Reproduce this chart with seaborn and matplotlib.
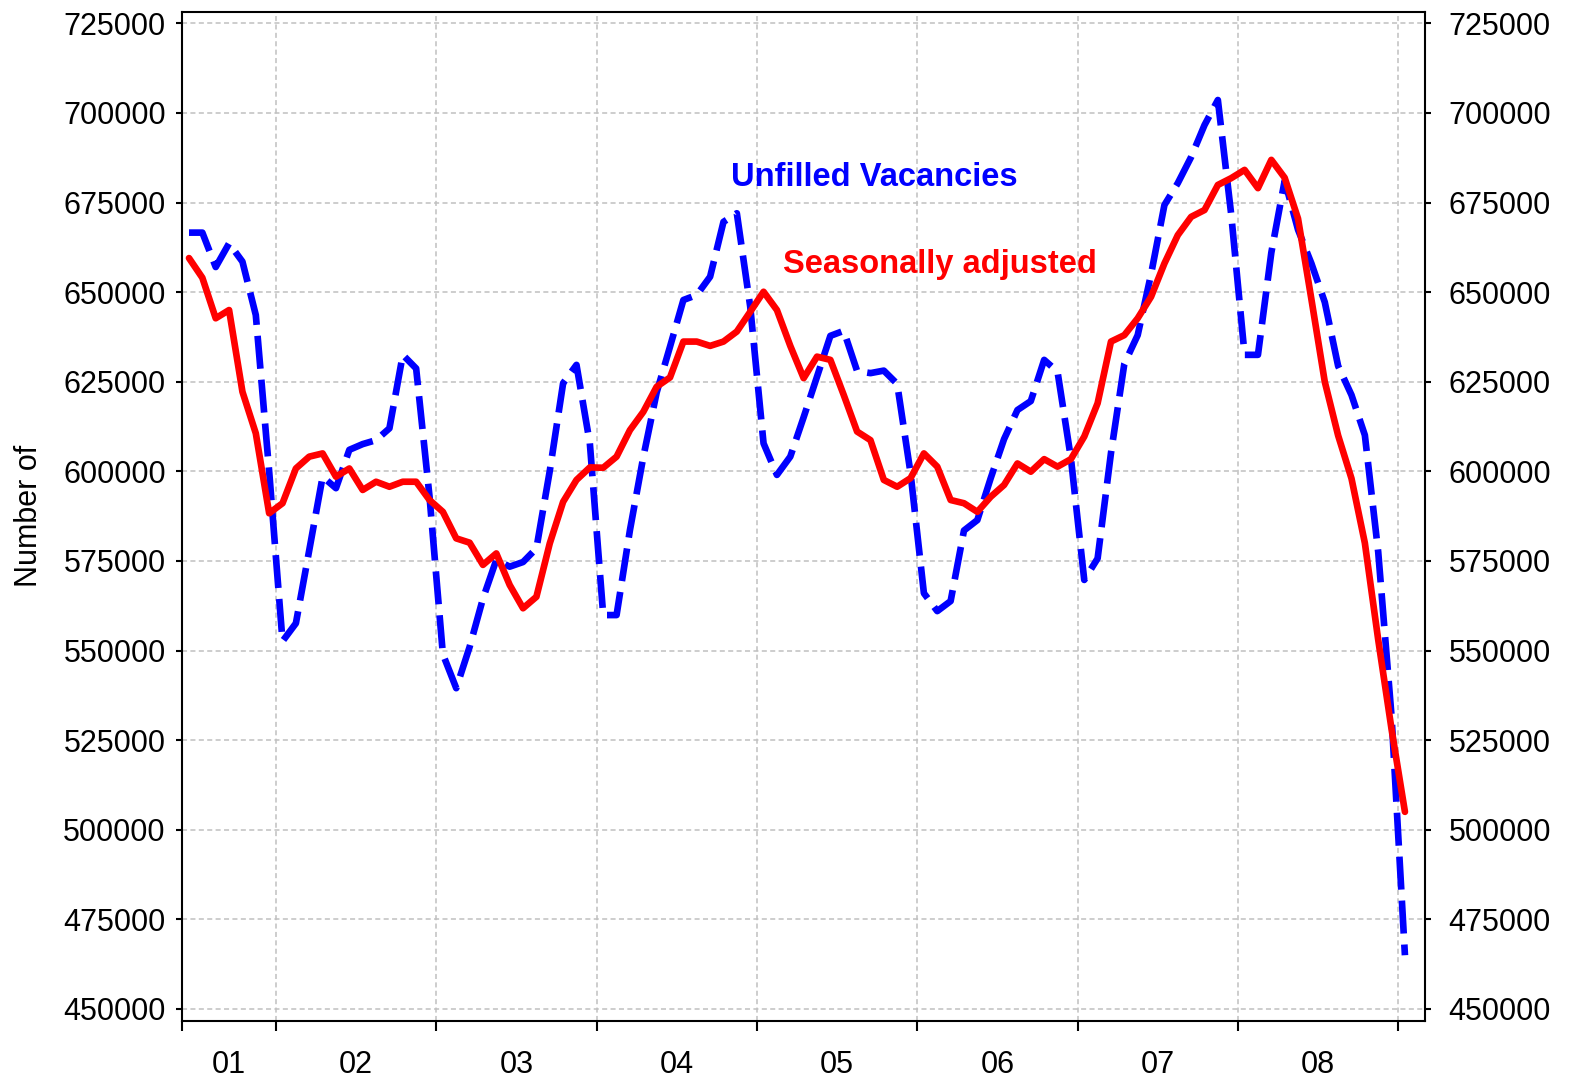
import numpy as np
import pandas as pd
import matplotlib
matplotlib.use("Agg")
import matplotlib.pyplot as plt
import seaborn as sns

# monthly observations, June 2001 - January 2009
months = pd.date_range("2001-06-01", periods=92, freq="MS")

vacancies = [
    666600, 666600, 657000, 663600, 658500, 643600, 600000, 552600, 557600, 578000,
    598500, 595300, 606000, 607600, 608700, 612000, 632500, 628700, 593000, 549000,
    539500, 551000, 564500, 575300, 573400, 574700, 578500, 600100, 624600, 629700,
    607800, 559900, 559900, 583600, 604000, 622000, 634800, 647800, 649200, 654300,
    669600, 672000, 646000, 607800, 599000, 604100, 615100, 626400, 637800, 639200,
    628000, 627400, 628100, 624400, 599500, 566000, 561000, 563800, 583500, 586400,
    598100, 609000, 617100, 619600, 631100, 627800, 603700, 569700, 575700, 605100,
    630000, 638000, 655000, 674300, 680400, 687700, 696600, 703600, 671600, 632500,
    632500, 661000, 681100, 667400, 658000, 647200, 629400, 621300, 610100, 577500,
    531600, 465000,
]

seasonally_adj = [
    659500, 654000, 642700, 645000, 622200, 610600, 588300, 591100, 600800, 604100,
    605000, 598500, 600800, 594800, 597100, 595700, 597100, 597100, 592000, 588700,
    581300, 580100, 573900, 577100, 568300, 561800, 565000, 579900, 591500, 597600,
    601100, 601000, 604100, 611500, 616600, 623600, 626200, 636200, 636200, 635000,
    636200, 639000, 644500, 650100, 645000, 635000, 626000, 632000, 631100, 621300,
    611100, 608700, 597600, 595700, 598100, 605000, 601300, 592000, 591100, 588700,
    592900, 596200, 602200, 599900, 603400, 601300, 603400, 609700, 619000, 636200,
    638000, 642700, 648700, 658000, 665900, 671000, 672900, 679900, 681800, 684100,
    679000, 686900, 681900, 670500, 648000, 625000, 610000, 598000, 580000, 553000,
    528000, 505000,
]

year_labels = ["01", "02", "03", "04", "05", "06", "07", "08"]
y_ticks = list(range(450000, 725001, 25000))

df = pd.DataFrame({
    "t": months.year + (months.month - 0.5) / 12.0,
    "vacancies": vacancies,
    "sa": seasonally_adj,
})

sns.set_theme(style="white")
plt.rcParams["font.family"] = ["Liberation Sans", "DejaVu Sans"]

fig = plt.figure(figsize=(15.73, 10.81), dpi=100)
ax = fig.add_axes([0.1159, 0.0555, 0.79, 0.9337])

sns.lineplot(data=df, x="t", y="vacancies", ax=ax, color="#0000ff",
             linewidth=4.8, linestyle=(0, (4.95, 1.65)), zorder=3)
sns.lineplot(data=df, x="t", y="sa", ax=ax, color="#ff0000",
             linewidth=4.8, zorder=4)

x0, x1 = 2001 + 5 / 12, 2009 + 2 / 12
ax.set_xlim(x0, x1)
ax.set_ylim(446650, 728240)

# year boundaries as ticks/grid, labels in the middle of each year
bounds = [x0] + list(range(2002, 2010))
ax.set_xticks(bounds)
ax.set_xticklabels([])
mids = [(x0 + 2002) / 2] + [y + 0.5 for y in range(2002, 2009)]
ax.set_xticks(mids, year_labels, minor=True)
ax.tick_params(axis="x", which="major", length=7, width=1.5, color="black", bottom=True)
ax.tick_params(axis="x", which="minor", length=0, pad=21, labelsize=22, labelcolor="black")

ax.set_yticks(y_ticks)
ax.set_yticklabels([str(v) for v in y_ticks])
ax.tick_params(axis="y", length=4, width=1.5, pad=8, labelsize=22, left=True,
               color="black", labelcolor="black")

ax.grid(True, which="major", color="#c0c0c0", linestyle=(0, (3.3, 2.2)), linewidth=1.1)
ax.set_axisbelow(True)

for sp in ax.spines.values():
    sp.set_visible(True)
    sp.set_color("black")
    sp.set_linewidth(1.5)

ax2 = ax.twinx()
ax2.set_ylim(ax.get_ylim())
ax2.set_yticks(y_ticks)
ax2.set_yticklabels([str(v) for v in y_ticks])
ax2.tick_params(axis="y", length=4, width=1.5, pad=13, labelsize=22, right=True,
                color="black", labelcolor="black")
ax2.grid(False)
for sp in ax2.spines.values():
    sp.set_visible(False)

ax.set_xlabel("")
ax.set_ylabel("Number of", fontsize=22, labelpad=14, color="black")

ax.text(2005.73, 682100, "Unfilled Vacancies", color="#0000ff", fontsize=23.5,
        fontweight="bold", ha="center", va="center")
ax.text(2006.14, 657800, "Seasonally adjusted", color="#ff0000", fontsize=23.5,
        fontweight="bold", ha="center", va="center")

fig.savefig("out.png", dpi=100)
